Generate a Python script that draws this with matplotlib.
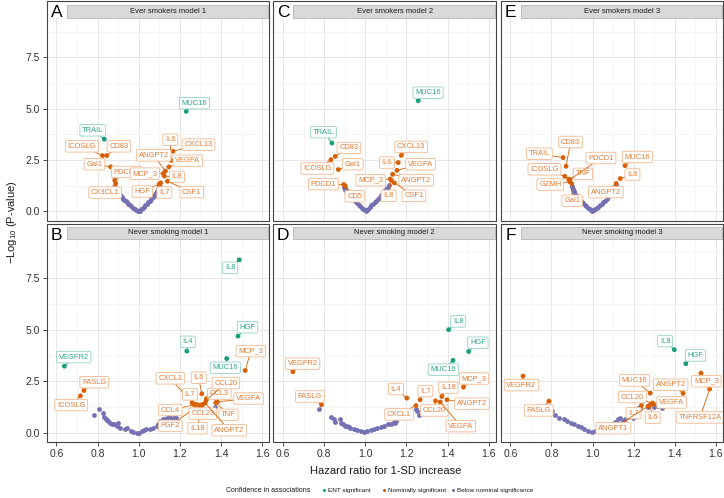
import matplotlib
matplotlib.use('Agg')
import matplotlib.pyplot as plt
from matplotlib.lines import Line2D
from matplotlib.patches import Rectangle
from matplotlib.ticker import MultipleLocator

plt.rcParams['font.family'] = ['Liberation Sans', 'DejaVu Sans']
plt.rcParams['mathtext.fontset'] = 'custom'
plt.rcParams['mathtext.rm'] = 'Liberation Sans'
plt.rcParams['mathtext.it'] = 'Liberation Sans'

GREEN = '#1B9E77'
ORANGE = '#D95F02'
PURPLE = '#7570B3'

# ---- data: labelled (significant) proteins per panel ----
A_NAMES = ['MUC16', 'TRAIL', 'ICOSLG', 'CD83', 'Gal1', 'PDCD1', 'CX3CL1', 'CXCL13', 'IL6',
           'VEGFA', 'ANGPT2', 'MCP_3', 'IL8', 'CSF1', 'IL7', 'HGF']
A_HR = [1.231, 0.833, 0.824, 0.845, 0.864, 0.884, 0.888, 1.167, 1.157,
        1.147, 1.130, 1.120, 1.125, 1.140, 1.107, 1.100]
A_LOGP = [4.87, 3.52, 2.72, 2.72, 2.17, 1.52, 1.35, 2.93, 2.49,
          2.17, 1.97, 1.84, 1.72, 1.47, 1.39, 1.33]
A_GROUP = ['ent', 'ent'] + ['nom'] * 14
A_BG_HR = [0.885, 0.888, 0.891, 0.894, 0.898, 0.902, 0.906, 0.910, 0.915, 0.920,
           0.925, 0.931, 0.937, 0.943, 0.950, 0.957, 0.964, 0.972, 0.980, 0.988,
           0.995, 1.000, 1.006, 1.012, 1.019, 1.026, 1.033, 1.040, 1.047, 1.054,
           1.061, 1.068, 1.074, 1.080, 1.085, 1.090, 1.094, 1.098, 1.101]
A_BG_LOGP = [1.20, 1.14, 1.08, 1.02, 0.97, 0.92, 0.86, 0.81, 0.75, 0.69,
             0.63, 0.56, 0.50, 0.44, 0.37, 0.31, 0.25, 0.18, 0.12, 0.07,
             0.03, 0.00, 0.04, 0.10, 0.17, 0.24, 0.31, 0.38, 0.45, 0.52,
             0.60, 0.68, 0.76, 0.84, 0.92, 1.00, 1.08, 1.17, 1.25]

C_NAMES = ['MUC16', 'TRAIL', 'CD83', 'ICOSLG', 'Gal1', 'PDCD1', 'CD5', 'CXCL13', 'IL6',
           'VEGFA', 'ANGPT2', 'MCP_3', 'IL8', 'CSF1']
C_HR = [1.257, 0.838, 0.854, 0.833, 0.869, 0.895, 0.903, 1.175, 1.160,
        1.154, 1.133, 1.121, 1.126, 1.141]
C_LOGP = [5.39, 3.33, 2.68, 2.52, 2.04, 1.31, 1.24, 2.73, 2.38,
          2.00, 1.81, 1.58, 1.52, 1.39]
C_GROUP = ['ent', 'ent'] + ['nom'] * 12
C_BG_HR = [0.895, 0.899, 0.903, 0.908, 0.913, 0.919, 0.925, 0.932, 0.939, 0.946,
           0.953, 0.960, 0.968, 0.976, 0.984, 0.991, 0.997, 1.002, 1.008, 1.015,
           1.022, 1.030, 1.038, 1.046, 1.054, 1.062, 1.070, 1.078, 1.086, 1.093,
           1.100, 1.106, 1.111, 1.116]
C_BG_LOGP = [1.19, 1.12, 1.06, 0.99, 0.92, 0.85, 0.78, 0.70, 0.62, 0.55,
             0.47, 0.40, 0.33, 0.25, 0.17, 0.10, 0.05, 0.02, 0.07, 0.14,
             0.21, 0.29, 0.37, 0.45, 0.53, 0.62, 0.71, 0.80, 0.89, 0.98,
             1.07, 1.14, 1.21, 1.28]

E_NAMES = ['CD83', 'TRAIL', 'ICOSLG', 'TNF', 'PDCD1', 'GZMH', 'Gal1', 'MUC16', 'IL6', 'ANGPT2']
E_HR = [0.871, 0.857, 0.865, 0.884, 0.890, 0.888, 0.898, 1.158, 1.135, 1.115]
E_LOGP = [2.20, 2.62, 1.71, 1.57, 1.55, 1.45, 1.36, 2.23, 1.60, 1.36]
E_GROUP = ['nom'] * 10
E_BG_HR = [0.900, 0.902, 0.905, 0.908, 0.912, 0.917, 0.922, 0.928, 0.934, 0.941,
           0.948, 0.955, 0.962, 0.970, 0.978, 0.986, 0.993, 0.999, 1.005, 1.012,
           1.020, 1.028, 1.036, 1.044, 1.052, 1.060, 1.068, 1.076, 1.084, 1.092,
           1.099, 1.105, 1.110, 1.115]
E_BG_LOGP = [1.25, 1.17, 1.09, 1.01, 0.93, 0.85, 0.77, 0.69, 0.61, 0.53,
             0.46, 0.39, 0.32, 0.25, 0.18, 0.11, 0.05, 0.02, 0.05, 0.10,
             0.16, 0.22, 0.29, 0.36, 0.44, 0.52, 0.60, 0.69, 0.78, 0.87,
             0.97, 1.07, 1.17, 1.27]

B_NAMES = ['IL8', 'HGF', 'IL4', 'MUC16', 'VEGFR2', 'MCP_3', 'FASLG', 'ICOSLG', 'IL6',
           'CCL3', 'CCL20', 'VEGFA', 'TNF', 'CXCL1', 'IL7', 'CCL4', 'FGF2', 'IL18',
           'CCL23', 'ANGPT2']
B_HR = [1.489, 1.483, 1.234, 1.428, 0.639, 1.518, 0.734, 0.717, 1.307,
        1.331, 1.328, 1.383, 1.375, 1.260, 1.268, 1.280, 1.291, 1.304,
        1.312, 1.323]
B_LOGP = [8.39, 4.69, 3.96, 3.60, 3.23, 3.02, 2.05, 1.79, 1.89,
          1.66, 1.58, 1.50, 1.46, 1.45, 1.37, 1.37, 1.34, 1.34,
          1.37, 1.44]
B_GROUP = ['ent'] * 5 + ['nom'] * 15
B_BG_HR = [0.785, 0.808, 0.829, 0.833, 0.842, 0.845, 0.853, 0.861, 0.872, 0.882,
           0.896, 0.901, 0.909, 0.933, 0.942, 0.961, 0.974, 0.990, 1.000, 1.014,
           1.027, 1.038, 1.054, 1.070, 1.087, 1.094, 1.106, 1.118, 1.130, 1.143,
           1.154, 1.167, 1.178, 1.183, 1.296, 1.373]
B_BG_LOGP = [0.86, 1.13, 0.94, 0.78, 0.69, 0.60, 0.56, 0.47, 0.40, 0.44,
             0.32, 0.45, 0.24, 0.16, 0.21, 0.08, 0.05, 0.00, 0.01, 0.08,
             0.11, 0.16, 0.19, 0.21, 0.32, 0.44, 0.56, 0.65, 0.68, 0.76,
             0.76, 0.68, 0.79, 0.73, 1.24, 1.27]

D_NAMES = ['IL8', 'HGF', 'MUC16', 'VEGFR2', 'MCP_3', 'FASLG', 'IL4', 'IL7', 'IL18',
           'ANGPT2', 'CXCL1', 'CCL20', 'VEGFA']
D_HR = [1.405, 1.502, 1.426, 0.648, 1.477, 0.787, 1.202, 1.266, 1.372,
        1.397, 1.246, 1.341, 1.364]
D_LOGP = [5.00, 3.94, 3.51, 2.96, 2.21, 1.36, 1.68, 1.60, 1.76,
          1.60, 1.32, 1.55, 1.49]
D_GROUP = ['ent'] * 3 + ['nom'] * 10
D_BG_HR = [0.774, 0.835, 0.846, 0.854, 0.879, 0.882, 0.892, 0.903, 0.912, 0.920,
           0.928, 0.944, 0.961, 0.977, 0.993, 1.010, 1.026, 1.043, 1.059, 1.075,
           1.092, 1.108, 1.125, 1.138, 1.145, 1.149, 1.244, 1.262, 1.250]
D_BG_LOGP = [1.16, 0.76, 0.65, 0.53, 0.69, 0.49, 0.40, 0.35, 0.32, 0.27,
             0.24, 0.19, 0.13, 0.08, 0.03, 0.06, 0.11, 0.16, 0.21, 0.27,
             0.34, 0.40, 0.44, 0.53, 0.47, 0.56, 1.13, 0.85, 1.05]

F_NAMES = ['IL8', 'HGF', 'VEGFR2', 'MCP_3', 'TNFRSF12A', 'ANGPT2', 'FASLG', 'MUC16',
           'CCL20', 'VEGFA', 'IL6', 'IL7', 'ANGPT1']
F_HR = [1.398, 1.454, 0.662, 1.528, 1.570, 1.441, 0.788, 1.281,
        1.291, 1.297, 1.280, 1.238, 1.270]
F_LOGP = [4.03, 3.35, 2.75, 2.89, 2.12, 1.91, 1.53, 1.92,
          1.44, 1.38, 1.35, 1.32, 1.28]
F_GROUP = ['ent'] * 2 + ['nom'] * 11
F_BG_HR = [0.805, 0.819, 0.835, 0.860, 0.876, 0.893, 0.912, 0.929, 0.942, 0.958,
           0.978, 0.995, 1.011, 1.027, 1.044, 1.060, 1.077, 1.094, 1.110, 1.126,
           1.136, 1.148, 1.159, 1.171, 1.184, 1.196, 1.207, 1.220, 1.233, 1.268,
           1.300, 1.320, 1.340]
F_BG_LOGP = [1.03, 0.86, 0.73, 0.65, 0.56, 0.48, 0.40, 0.32, 0.27, 0.16,
             0.08, 0.05, 0.08, 0.13, 0.21, 0.27, 0.35, 0.44, 0.50, 0.65,
             0.73, 0.56, 0.65, 0.76, 0.85, 0.73, 0.97, 1.18, 1.24, 1.26,
             1.24, 1.29, 1.21]

TITLES = ['Ever smokers model 1', 'Ever smokers model 2', 'Ever smokers model 3',
          'Never smoking model 1', 'Never smoking model 2', 'Never smoking model 3']
LETTERS = ['A', 'C', 'E', 'B', 'D', 'F']
LEGEND_LABELS = ['ENT significant', 'Nominally significant', 'Below nominal significance']

# ---- layout: label box centres (data coords) ----
LABEL_POS = {
    'A': {'MUC16': (1.271, 5.27), 'TRAIL': (0.777, 3.95), 'ICOSLG': (0.724, 3.17),
          'CD83': (0.904, 3.17), 'Gal1': (0.785, 2.30), 'PDCD1': (0.941, 1.92),
          'CX3CL1': (0.837, 0.92), 'IL6': (1.154, 3.49), 'CXCL13': (1.291, 3.25),
          'ANGPT2': (1.073, 2.73), 'VEGFA': (1.239, 2.47), 'MCP_3': (1.030, 1.84),
          'IL8': (1.186, 1.68), 'CSF1': (1.258, 0.94), 'HGF': (1.018, 0.97),
          'IL7': (1.125, 0.92)},
    'C': {'MUC16': (1.305, 5.78), 'TRAIL': (0.797, 3.86), 'CD83': (0.920, 3.09),
          'Gal1': (0.939, 2.30), 'ICOSLG': (0.767, 2.09), 'PDCD1': (0.797, 1.33),
          'CD5': (0.948, 0.74), 'CXCL13': (1.223, 3.14), 'IL6': (1.105, 2.38),
          'VEGFA': (1.269, 2.30), 'MCP_3': (1.026, 1.52), 'ANGPT2': (1.247, 1.52),
          'IL8': (1.113, 0.76), 'CSF1': (1.236, 0.76)},
    'E': {'CD83': (0.893, 3.38), 'TRAIL': (0.741, 2.81), 'ICOSLG': (0.766, 2.05),
          'GZMH': (0.794, 1.31), 'PDCD1': (1.041, 2.60), 'TNF': (0.953, 1.83),
          'Gal1': (0.901, 0.52), 'MUC16': (1.218, 2.65), 'IL6': (1.194, 1.80),
          'ANGPT2': (1.065, 0.94)},
    'B': {'IL8': (1.445, 8.00), 'HGF': (1.529, 5.12), 'IL4': (1.239, 4.41),
          'VEGFR2': (0.684, 3.67), 'MUC16': (1.421, 3.15), 'MCP_3': (1.545, 3.96),
          'FASLG': (0.784, 2.45), 'ICOSLG': (0.672, 1.34), 'CXCL1': (1.154, 2.64),
          'IL6': (1.292, 2.67), 'CCL20': (1.424, 2.41), 'IL7': (1.249, 1.86),
          'CCL3': (1.392, 1.89), 'VEGFA': (1.534, 1.66), 'CCL4': (1.154, 1.10),
          'CCL23': (1.312, 0.93), 'TNF': (1.437, 0.87), 'FGF2': (1.154, 0.33),
          'IL18': (1.286, 0.22), 'ANGPT2': (1.441, 0.12)},
    'D': {'IL8': (1.451, 5.40), 'HGF': (1.547, 4.37), 'MUC16': (1.379, 3.06),
          'VEGFR2': (0.695, 3.35), 'MCP_3': (1.528, 2.63), 'FASLG': (0.731, 1.76),
          'IL4': (1.149, 2.12), 'IL7': (1.292, 2.02), 'IL18': (1.403, 2.18),
          'ANGPT2': (1.518, 1.41), 'CXCL1': (1.164, 0.89), 'CCL20': (1.335, 1.08),
          'VEGFA': (1.464, 0.32)},
    'F': {'IL8': (1.353, 4.45), 'HGF': (1.501, 3.75), 'VEGFR2': (0.654, 2.31),
          'MCP_3': (1.554, 2.50), 'TNFRSF12A': (1.523, 0.74), 'ANGPT2': (1.380, 2.33),
          'FASLG': (0.738, 1.08), 'MUC16': (1.205, 2.54), 'CCL20': (1.194, 1.73),
          'VEGFA': (1.385, 1.47), 'IL6': (1.293, 0.73), 'IL7': (1.200, 0.95),
          'ANGPT1': (1.101, 0.22)},
}

PANELS = {
    'A': (A_NAMES, A_HR, A_LOGP, A_GROUP, A_BG_HR, A_BG_LOGP),
    'C': (C_NAMES, C_HR, C_LOGP, C_GROUP, C_BG_HR, C_BG_LOGP),
    'E': (E_NAMES, E_HR, E_LOGP, E_GROUP, E_BG_HR, E_BG_LOGP),
    'B': (B_NAMES, B_HR, B_LOGP, B_GROUP, B_BG_HR, B_BG_LOGP),
    'D': (D_NAMES, D_HR, D_LOGP, D_GROUP, D_BG_HR, D_BG_LOGP),
    'F': (F_NAMES, F_HR, F_LOGP, F_GROUP, F_BG_HR, F_BG_LOGP),
}

W, H = 724, 498
fig = plt.figure(figsize=(W / 100, H / 100), dpi=100)


def fbox(x0, y0, x1, y1):
    # pixel box (top-left origin) -> figure fraction
    return [x0 / W, 1 - y1 / H, (x1 - x0) / W, (y1 - y0) / H]


COLS = [(46.7, 269.3), (273.3, 496.0), (500.7, 723.0)]
ROWS = [(1.5, 5.0, 18.3, 220.7), (224.0, 226.7, 239.0, 442.0)]  # frame top, strip top, axes top, bottom

TEXT_COL = {'ent': ('#2BA583', '#93D3C0'), 'nom': ('#E57A35', '#F3B88E')}
PT_COL = {'ent': GREEN, 'nom': ORANGE}

for i, letter in enumerate(LETTERS):
    r, c = divmod(i, 3)
    x0, x1 = COLS[c]
    ftop, stop, atop, abot = ROWS[r]
    ax = fig.add_axes(fbox(x0, atop, x1, abot))
    ax.set_xlim(0.553, 1.635)
    ax.set_ylim(-0.45, 9.4)
    ax.xaxis.set_major_locator(MultipleLocator(0.2))
    ax.xaxis.set_minor_locator(MultipleLocator(0.1))
    ax.yaxis.set_major_locator(MultipleLocator(2.5))
    ax.yaxis.set_minor_locator(MultipleLocator(1.25))
    ax.grid(which='major', color='#E3E3E3', lw=0.6)
    ax.grid(which='minor', color='#F0F0F0', lw=0.4)
    ax.set_axisbelow(True)
    for s in ax.spines.values():
        s.set_visible(False)
    ax.tick_params(which='minor', length=0)
    ax.tick_params(which='major', direction='out', length=3, width=0.6, color='#333333',
                   labelsize=7.5, labelcolor='#333333', pad=2)
    if c != 0:
        ax.tick_params(axis='y', length=0, labelleft=False)
    else:
        ax.yaxis.set_major_formatter(plt.FuncFormatter(lambda v, p: f'{v:.1f}'))
    if r == 0:
        ax.tick_params(axis='x', length=0, labelbottom=False)
    else:
        ax.xaxis.set_major_formatter(plt.FuncFormatter(lambda v, p: f'{v:.1f}'))

    names, hr, logp, grp, bg_hr, bg_logp = PANELS[letter]
    ax.scatter(bg_hr, bg_logp, s=12, color=PURPLE, lw=0, zorder=3)
    ax.scatter(hr, logp, s=12, color=[PT_COL[g] for g in grp], lw=0, zorder=3)
    pos = LABEL_POS[letter]
    for n, x, y, g in zip(names, hr, logp, grp):
        tc, ec = TEXT_COL[g]
        ax.annotate(n, xy=(x, y), xytext=pos[n], ha='center', va='center',
                    fontsize=5.4, color=tc, zorder=4,
                    bbox=dict(boxstyle='round,pad=0.3,rounding_size=0.2', fc='white', ec=ec, lw=0.6),
                    arrowprops=dict(arrowstyle='-', color=PT_COL[g], lw=0.6, shrinkA=0, shrinkB=1.5))

    # frame around panel + strip
    fig.add_artist(Rectangle((x0 / W, 1 - abot / H), (x1 - x0) / W, (abot - ftop) / H,
                             transform=fig.transFigure, fill=False, ec='#444444', lw=0.8, zorder=10))
    sx0 = x0 + 20
    fig.add_artist(Rectangle((sx0 / W, 1 - atop / H), (x1 - 1 - sx0) / W, (atop - stop) / H,
                             transform=fig.transFigure, fc='#D9D9D9', ec='#AAAAAA', lw=0.5, zorder=9))
    fig.text((sx0 + x1) / 2 / W, 1 - (stop + atop) / 2 / H, TITLES[i], ha='center', va='center',
             fontsize=5.5, color='#1A1A1A', zorder=11)
    fig.text((x0 + 10) / W, 1 - (ftop + 11) / H, letter, ha='center', va='center',
             fontsize=12.5, color='black', zorder=11)

fig.text(12 / W, 1 - 222 / H, r'$-$Log$_{10}$ (P-value)', rotation=90, ha='center', va='center',
         fontsize=8, color='#1A1A1A')
fig.text(386 / W, 1 - 471 / H, 'Hazard ratio for 1-SD increase', ha='center', va='center',
         fontsize=8, color='#1A1A1A')

# legend row drawn by hand
ly = 1 - 490 / H
fig.text(310 / W, ly, 'Confidence in associations', ha='right', va='center',
         fontsize=5, color='#1A1A1A')
for xd, col, lab in zip([324, 384, 453], [GREEN, ORANGE, PURPLE], LEGEND_LABELS):
    fig.add_artist(Line2D([xd / W], [ly], transform=fig.transFigure, ls='', marker='o',
                          ms=2.2, color=col, mew=0))
    fig.text((xd + 4) / W, ly, lab, ha='left', va='center', fontsize=4.6, color='#1A1A1A')

fig.savefig('out.png', dpi=100)
